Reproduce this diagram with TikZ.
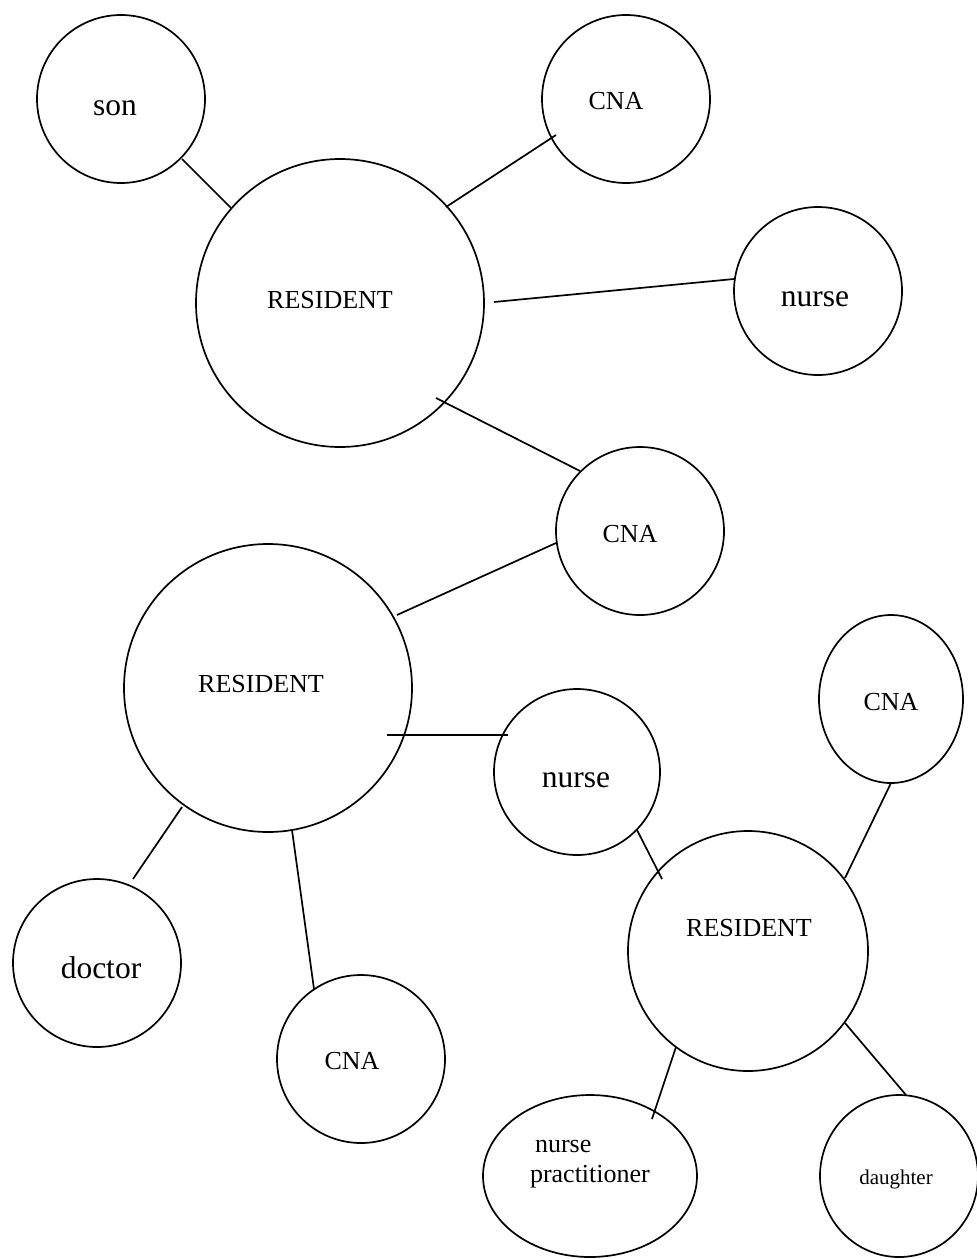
\documentclass[tikz,border=0pt]{standalone}
\usepackage{fontspec}
\setmainfont{Liberation Serif}
\usetikzlibrary{shapes.geometric}
\tikzset{
  bub/.style={draw, circle, line width=1.7pt, inner sep=0pt, outer sep=0pt},
  ebub/.style={draw, ellipse, line width=1.7pt, inner sep=0pt, outer sep=0pt},
  link/.style={line width=1.7pt},
  txt/.style={inner sep=0pt, outer sep=0pt, anchor=base},
  big/.style={font=\fontsize{31.5}{36}\selectfont},
  mid/.style={font=\fontsize{26}{30}\selectfont},
  small/.style={font=\fontsize{21}{25}\selectfont}
}
\begin{document}
\begin{tikzpicture}[x=1pt, y=-1pt]
\useasboundingbox (0,0) rectangle (977,1259);
% bubbles
\node[bub, minimum size=168pt] (son) at (121,99) {};
\node[bub, minimum size=168pt] (cnaA) at (626,99) {};
\node[bub, minimum size=288pt] (r1) at (340,303) {};
\node[bub, minimum size=168pt] (nurseA) at (818,291) {};
\node[bub, minimum size=168pt] (cnaB) at (640,531) {};
\node[bub, minimum size=288pt] (r2) at (268,688) {};
\node[ebub, minimum width=144pt, minimum height=168pt] (cnaC) at (891,699) {};
\node[bub, minimum size=166pt] (nurseB) at (577,772) {};
\node[bub, minimum size=240pt] (r3) at (748,951) {};
\node[bub, minimum size=168pt] (doctor) at (97,963) {};
\node[bub, minimum size=168pt] (cnaD) at (361,1059) {};
\node[ebub, minimum width=214pt, minimum height=162pt] (np) at (590,1176) {};
\node[ebub, minimum width=158pt, minimum height=162pt] (daughter) at (899,1176) {};
% texts
\node[txt, big] (tson) at (115,115) {son};
\node[txt, mid] (tcnaA) at (616,109) {CNA};
\node[txt, mid] (tr1) at (330,308) {RESIDENT};
\node[txt, big] (tnurseA) at (815,306) {nurse};
\node[txt, mid] (tcnaB) at (630,542) {CNA};
\node[txt, mid] (tr2) at (261,692) {RESIDENT};
\node[txt, mid] (tcnaC) at (891,710) {CNA};
\node[txt, big] (tnurseB) at (576,787) {nurse};
\node[txt, mid] (tr3) at (749,936) {RESIDENT};
\node[txt, big] (tdoctor) at (101,978) {doctor};
\node[txt, mid] (tcnaD) at (352,1069) {CNA};
\node[txt, mid, anchor=base west] (tnp1) at (535,1152) {nurse};
\node[txt, mid, anchor=base west] (tnp2) at (530,1182) {practitioner};
\node[txt, small] (tdaughter) at (896,1184) {daughter};
% connectors
\draw[link] ([shift={(61,60)}]son.center) -- ([shift={(-109,-95)}]r1.center);
\draw[link] ([shift={(-70,36)}]cnaA.center) -- ([shift={(106,-96)}]r1.center);
\draw[link] ([shift={(-84,-12)}]nurseA.center) -- ([shift={(154,-1)}]r1.center);
\draw[link] ([shift={(96,95)}]r1.center) -- ([shift={(-60,-60)}]cnaB.center);
\draw[link] ([shift={(-84,12)}]cnaB.center) -- ([shift={(129,-73)}]r2.center);
\draw[link] ([shift={(119,47)}]r2.center) -- ([shift={(-69,-37)}]nurseB.center);
\draw[link] ([shift={(-86,119)}]r2.center) -- ([shift={(36,-84)}]doctor.center);
\draw[link] ([shift={(24,142)}]r2.center) -- ([shift={(-47,-70)}]cnaD.center);
\draw[link] ([shift={(60,58)}]nurseB.center) -- ([shift={(-86,-72)}]r3.center);
\draw[link] ([shift={(0,84)}]cnaC.center) -- ([shift={(97,-73)}]r3.center);
\draw[link] ([shift={(-72,96)}]r3.center) -- ([shift={(62,-57)}]np.center);
\draw[link] ([shift={(97,72)}]r3.center) -- ([shift={(7,-81)}]daughter.center);
\end{tikzpicture}
\end{document}
